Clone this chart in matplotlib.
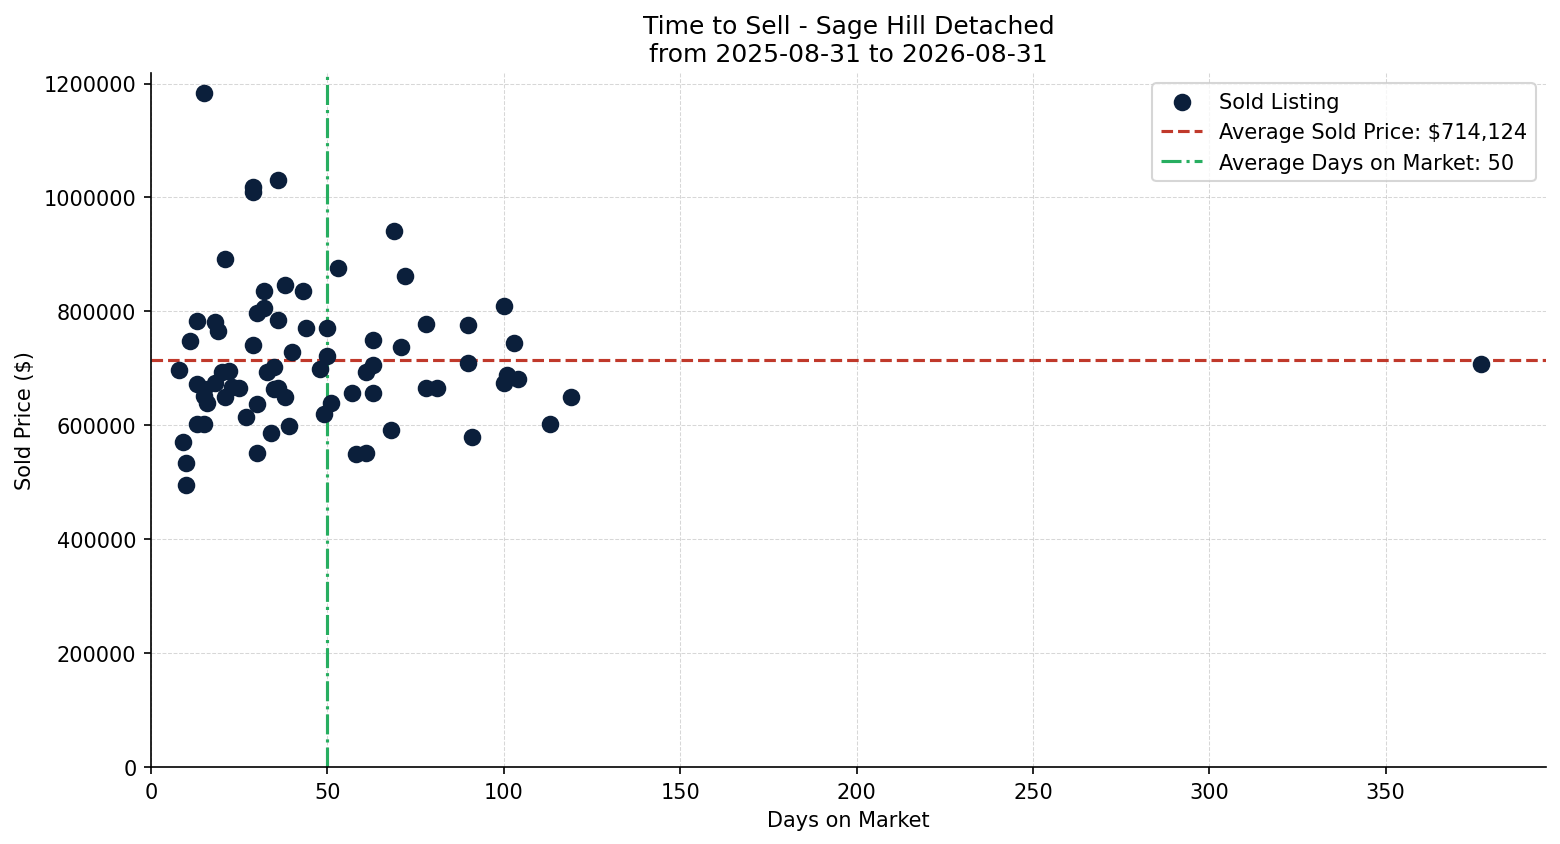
import matplotlib
matplotlib.use("Agg")
import matplotlib.pyplot as plt
import numpy as np

days = [8, 9, 10, 10, 11, 13, 13, 13, 15, 15, 18, 19, 18, 15, 15, 16, 21, 20, 22, 21,
        23, 25, 27, 29, 29, 29, 30, 30, 30, 32, 32, 33, 34, 35, 35, 36, 36, 36, 38, 38,
        39, 40, 43, 44, 48, 49, 50, 50, 51, 53, 57, 58, 61, 61, 63, 63, 63, 68, 69, 71,
        72, 78, 78, 81, 90, 90, 91, 100, 100, 101, 103, 104, 113, 119, 377]
prices = [697000, 570000, 533000, 496000, 748000, 783000, 673000, 602000, 602000, 1184000,
          782000, 765000, 675000, 663000, 651000, 640000, 650000, 693000, 696000, 892000,
          668000, 666000, 615000, 741000, 1018000, 1009000, 798000, 637000, 551000, 835000,
          806000, 693000, 587000, 703000, 663000, 665000, 785000, 1031000, 847000, 650000,
          598000, 728000, 835000, 770000, 698000, 619000, 770000, 722000, 639000, 876000,
          656000, 550000, 552000, 693000, 706000, 750000, 657000, 591000, 941000, 738000,
          862000, 777000, 666000, 666000, 776000, 710000, 580000, 809000, 675000, 688000,
          744000, 681000, 602000, 650000, 707000]
avg_price = 714124
avg_days = 50

fig = plt.figure(figsize=(10.4, 5.633), dpi=150)
ax = fig.add_axes([0.0968, 0.0911, 0.8942, 0.8213])

ax.scatter(days, prices, s=55, color="#0b1f3b", zorder=3, label="Sold Listing")
ax.axhline(avg_price, color="#c0392b", linestyle="--", linewidth=1.5,
           label=f"Average Sold Price: ${avg_price:,}", zorder=2)
ax.axvline(avg_days, color="#27ae60", linestyle="-.", linewidth=1.5,
           label=f"Average Days on Market: {avg_days}", zorder=2)

ax.set_xlim(left=0)
ax.set_ylim(bottom=0)
ax.ticklabel_format(axis="y", style="plain", useOffset=False)
ax.grid(True, linestyle="--", linewidth=0.5, alpha=0.5, color="#b0b0b0")
ax.set_axisbelow(True)
ax.spines["top"].set_visible(False)
ax.spines["right"].set_visible(False)

ax.set_xlabel("Days on Market")
ax.set_ylabel("Sold Price ($)")
ax.set_title("Time to Sell - Sage Hill Detached\nfrom 2025-08-31 to 2026-08-31", fontsize=12)
ax.legend(loc="upper right")

fig.savefig("out.png", dpi=150)
